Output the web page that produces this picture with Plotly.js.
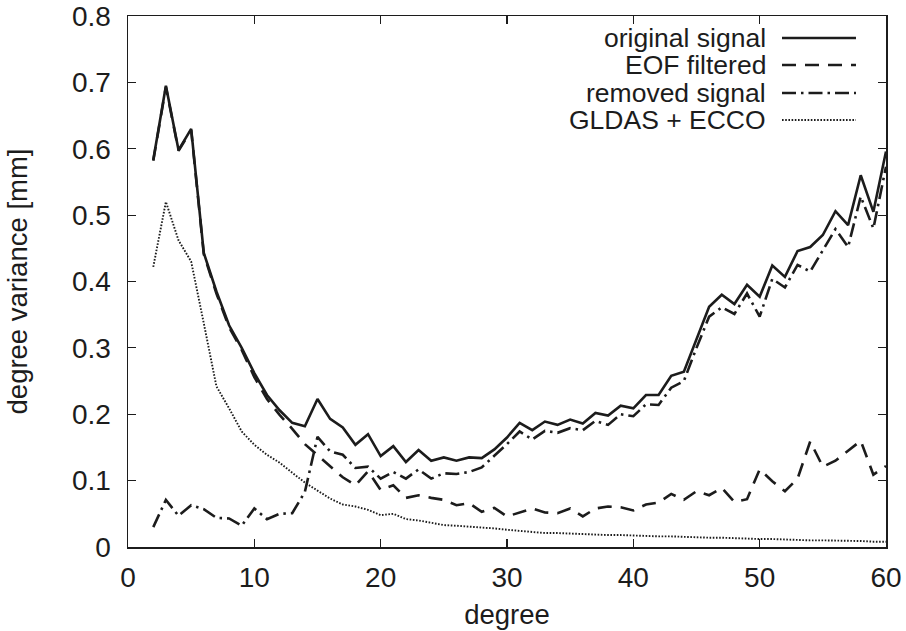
<!DOCTYPE html>
<html>
<head>
<meta charset="utf-8">
<script src="https://cdn.plot.ly/plotly-3.0.1.min.js"></script>
<style>html,body{margin:0;padding:0;background:#fff;}#chart{width:906px;height:631px;}</style>
</head>
<body>
<div id="chart"></div>
<script>
const degrees = [2,3,4,5,6,7,8,9,10,11,12,13,14,15,16,17,18,19,20,21,22,23,24,25,26,27,28,29,30,31,32,33,34,35,36,37,38,39,40,41,42,43,44,45,46,47,48,49,50,51,52,53,54,55,56,57,58,59,60];

const originalSignal = [0.583,0.695,0.598,0.630,0.443,0.385,0.334,0.300,0.262,0.229,0.206,0.187,0.182,0.223,0.193,0.180,0.154,0.170,0.137,0.152,0.128,0.146,0.130,0.135,0.130,0.135,0.134,0.147,0.165,0.187,0.176,0.189,0.184,0.192,0.186,0.202,0.198,0.213,0.209,0.229,0.229,0.258,0.264,0.313,0.362,0.380,0.366,0.395,0.377,0.424,0.407,0.446,0.452,0.470,0.506,0.485,0.560,0.505,0.596];

const eofFiltered = [0.582,0.693,0.597,0.628,0.441,0.382,0.331,0.297,0.256,0.223,0.199,0.178,0.155,0.138,0.121,0.105,0.093,0.114,0.086,0.093,0.074,0.078,0.074,0.071,0.063,0.066,0.053,0.059,0.046,0.052,0.058,0.052,0.051,0.058,0.046,0.058,0.061,0.060,0.055,0.064,0.067,0.080,0.071,0.084,0.078,0.089,0.068,0.072,0.117,0.099,0.084,0.103,0.159,0.121,0.130,0.145,0.160,0.109,0.122];

const removedSignal = [0.030,0.071,0.047,0.063,0.057,0.044,0.043,0.032,0.058,0.042,0.050,0.051,0.083,0.166,0.144,0.139,0.119,0.121,0.103,0.113,0.103,0.117,0.103,0.111,0.110,0.113,0.120,0.137,0.155,0.174,0.162,0.175,0.172,0.179,0.176,0.190,0.184,0.200,0.197,0.215,0.214,0.240,0.250,0.300,0.347,0.361,0.351,0.382,0.347,0.404,0.391,0.425,0.415,0.447,0.479,0.452,0.528,0.480,0.573];

const gldasEcco = [0.422,0.520,0.462,0.430,0.337,0.242,0.209,0.174,0.154,0.139,0.127,0.112,0.097,0.085,0.073,0.064,0.061,0.056,0.048,0.050,0.042,0.040,0.036,0.033,0.032,0.031,0.030,0.028,0.026,0.024,0.022,0.021,0.021,0.020,0.019,0.019,0.018,0.018,0.017,0.017,0.016,0.016,0.015,0.015,0.014,0.014,0.013,0.013,0.012,0.012,0.011,0.011,0.010,0.010,0.010,0.009,0.009,0.008,0.008];

const seriesNames = ["original signal", "EOF filtered", "removed signal", "GLDAS + ECCO"];
const xTicks = [0,10,20,30,40,50,60];
const yTicks = [0,0.1,0.2,0.3,0.4,0.5,0.6,0.7,0.8];
const yTickText = ["0","0.1","0.2","0.3","0.4","0.5","0.6","0.7","0.8"];

const FONT = "Liberation Sans, Arial, Helvetica, sans-serif";
const INK = "#1c1c1c";
const styles = [
  {width: 2.6, dash: "solid"},
  {width: 2.6, dash: "14px,9px"},
  {width: 2.6, dash: "14px,5px,2.5px,5px"},
  {width: 1.9, dash: "1.6px,1.6px"}
];
const seriesData = [originalSignal, eofFiltered, removedSignal, gldasEcco];

const traces = seriesData.map((ys, i) => ({
  x: degrees, y: ys, type: "scatter", mode: "lines", name: seriesNames[i],
  line: {color: INK, width: styles[i].width, dash: styles[i].dash},
  showlegend: false, hoverinfo: "skip"
}));

// custom gnuplot-style legend: text right-aligned, sample on the right
const legendRowsY = [0.9586, 0.9077, 0.8550, 0.8041];
const annotations = [];
const shapes = [];
seriesNames.forEach((nm, i) => {
  annotations.push({
    xref: "paper", yref: "paper", x: 0.8443, y: legendRowsY[i],
    xanchor: "right", yanchor: "middle", text: nm, showarrow: false,
    font: {family: FONT, size: 26.5, color: INK}
  });
  shapes.push({
    type: "line", xref: "paper", yref: "paper",
    x0: 0.8628, x1: 0.9604, y0: legendRowsY[i], y1: legendRowsY[i],
    line: {color: INK, width: styles[i].width, dash: styles[i].dash}
  });
});

const layout = {
  width: 906, height: 631,
  margin: {l: 128, r: 20, t: 16, b: 84, pad: 0},
  paper_bgcolor: "#fff", plot_bgcolor: "#fff",
  font: {family: FONT, size: 27, color: INK},
  showlegend: false,
  xaxis: {
    range: [0, 60], tickvals: xTicks, ticks: "inside", ticklen: 8, tickwidth: 1.2,
    tickcolor: INK, showline: true, linecolor: INK, linewidth: 1.5, mirror: "ticks",
    showgrid: false, zeroline: false, tickfont: {family: FONT, size: 28, color: INK},
    ticklabelstandoff: 5,
    title: {text: "degree", font: {family: FONT, size: 27.5, color: INK}, standoff: 12}
  },
  yaxis: {
    range: [0, 0.8], tickvals: yTicks, ticktext: yTickText, ticks: "inside", ticklen: 8, tickwidth: 1.2,
    tickcolor: INK, showline: true, linecolor: INK, linewidth: 1.5, mirror: "ticks",
    showgrid: false, zeroline: false, tickfont: {family: FONT, size: 28, color: INK},
    ticklabelstandoff: 10,
    title: {text: "degree variance [mm]", font: {family: FONT, size: 27.5, color: INK}, standoff: 36}
  },
  annotations: annotations,
  shapes: shapes
};

Plotly.newPlot("chart", traces, layout, {displayModeBar: false, staticPlot: true});
</script>
</body>
</html>
